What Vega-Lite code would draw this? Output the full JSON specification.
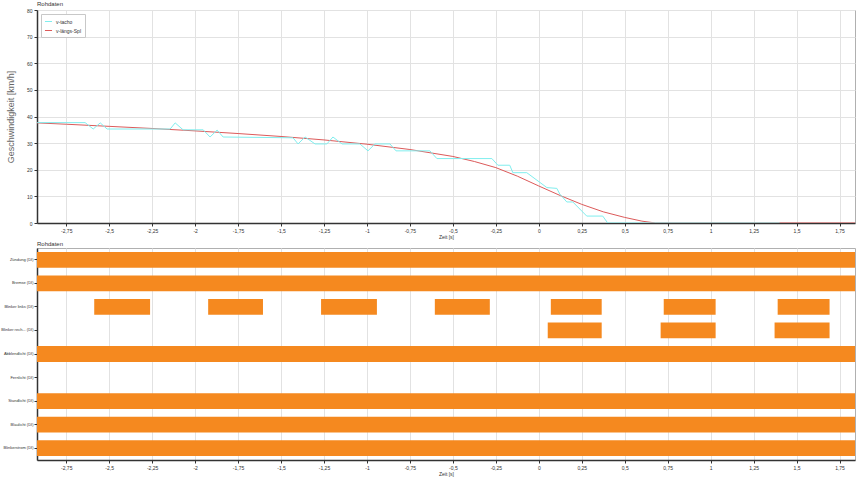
{
  "$schema": "https://vega.github.io/schema/vega-lite/v6.json",
  "padding": {"left": 0, "top": 0, "right": 0, "bottom": 0},
  "spacing": 0,
  "config": {
    "font": "Liberation Sans",
    "view": {"stroke": "#b0b0b0"},
    "axis": {"labelFontSize": 5, "labelColor": "#333", "tickColor": "#333", "domainColor": "#333", "domainWidth": 1.5, "tickSize": 3, "gridColor": "#e2e2e2", "titleFontSize": 5, "titleFontWeight": "normal", "titleColor": "#333", "labelPadding": 2},
    "title": {"fontSize": 6, "fontWeight": "normal", "color": "#333", "anchor": "start", "offset": 1, "frame": "group"}
  },
  "datasets": {
    "speed": [
      {"s": "v-längs-Spl", "t": -2.92, "v": 37.6},
      {"s": "v-längs-Spl", "t": -2.75, "v": 37.1},
      {"s": "v-längs-Spl", "t": -2.5, "v": 36.3},
      {"s": "v-längs-Spl", "t": -2.25, "v": 35.5},
      {"s": "v-längs-Spl", "t": -2.0, "v": 34.6},
      {"s": "v-längs-Spl", "t": -1.75, "v": 33.6},
      {"s": "v-längs-Spl", "t": -1.5, "v": 32.5},
      {"s": "v-längs-Spl", "t": -1.25, "v": 31.2},
      {"s": "v-längs-Spl", "t": -1.0, "v": 29.6},
      {"s": "v-längs-Spl", "t": -0.75, "v": 27.6},
      {"s": "v-längs-Spl", "t": -0.5, "v": 25.0},
      {"s": "v-längs-Spl", "t": -0.375, "v": 23.1},
      {"s": "v-längs-Spl", "t": -0.25, "v": 20.8},
      {"s": "v-längs-Spl", "t": -0.125, "v": 17.6},
      {"s": "v-längs-Spl", "t": 0.0, "v": 13.9},
      {"s": "v-längs-Spl", "t": 0.125, "v": 10.3},
      {"s": "v-längs-Spl", "t": 0.25, "v": 7.0},
      {"s": "v-längs-Spl", "t": 0.375, "v": 4.2},
      {"s": "v-längs-Spl", "t": 0.5, "v": 2.1},
      {"s": "v-längs-Spl", "t": 0.6, "v": 0.7},
      {"s": "v-längs-Spl", "t": 0.68, "v": 0.0},
      {"s": "v-längs-Spl", "t": 1.84, "v": 0.0},
      {"s": "v-tacho", "t": -2.919, "v": 37.7},
      {"s": "v-tacho", "t": -2.64, "v": 37.7},
      {"s": "v-tacho", "t": -2.593, "v": 35.3},
      {"s": "v-tacho", "t": -2.552, "v": 37.6},
      {"s": "v-tacho", "t": -2.512, "v": 35.3},
      {"s": "v-tacho", "t": -2.145, "v": 35.3},
      {"s": "v-tacho", "t": -2.116, "v": 37.6},
      {"s": "v-tacho", "t": -2.07, "v": 35.0},
      {"s": "v-tacho", "t": -1.953, "v": 35.0},
      {"s": "v-tacho", "t": -1.913, "v": 32.3},
      {"s": "v-tacho", "t": -1.872, "v": 34.9},
      {"s": "v-tacho", "t": -1.837, "v": 32.3},
      {"s": "v-tacho", "t": -1.43, "v": 32.0},
      {"s": "v-tacho", "t": -1.401, "v": 29.7},
      {"s": "v-tacho", "t": -1.36, "v": 32.3},
      {"s": "v-tacho", "t": -1.302, "v": 29.7},
      {"s": "v-tacho", "t": -1.233, "v": 29.7},
      {"s": "v-tacho", "t": -1.198, "v": 32.3},
      {"s": "v-tacho", "t": -1.145, "v": 29.7},
      {"s": "v-tacho", "t": -1.041, "v": 29.7},
      {"s": "v-tacho", "t": -0.994, "v": 27.1},
      {"s": "v-tacho", "t": -0.953, "v": 29.7},
      {"s": "v-tacho", "t": -0.866, "v": 29.7},
      {"s": "v-tacho", "t": -0.831, "v": 27.1},
      {"s": "v-tacho", "t": -0.634, "v": 27.1},
      {"s": "v-tacho", "t": -0.593, "v": 24.2},
      {"s": "v-tacho", "t": -0.273, "v": 24.2},
      {"s": "v-tacho", "t": -0.238, "v": 21.7},
      {"s": "v-tacho", "t": -0.169, "v": 21.7},
      {"s": "v-tacho", "t": -0.151, "v": 18.9},
      {"s": "v-tacho", "t": -0.07, "v": 18.9},
      {"s": "v-tacho", "t": 0.047, "v": 13.3},
      {"s": "v-tacho", "t": 0.105, "v": 13.0},
      {"s": "v-tacho", "t": 0.122, "v": 10.9},
      {"s": "v-tacho", "t": 0.163, "v": 7.9},
      {"s": "v-tacho", "t": 0.198, "v": 7.9},
      {"s": "v-tacho", "t": 0.279, "v": 2.6},
      {"s": "v-tacho", "t": 0.372, "v": 2.6},
      {"s": "v-tacho", "t": 0.401, "v": 0.0},
      {"s": "v-tacho", "t": 1.401, "v": 0.0}
    ],
    "bars": [
      {"row": "Zündung (DI)", "start": -2.92, "end": 1.84},
      {"row": "Bremse (DI)", "start": -2.92, "end": 1.84},
      {"row": "Blinker links (DI)", "start": -2.587, "end": -2.262},
      {"row": "Blinker links (DI)", "start": -1.924, "end": -1.605},
      {"row": "Blinker links (DI)", "start": -1.267, "end": -0.942},
      {"row": "Blinker links (DI)", "start": -0.605, "end": -0.285},
      {"row": "Blinker links (DI)", "start": 0.07, "end": 0.366},
      {"row": "Blinker links (DI)", "start": 0.727, "end": 1.029},
      {"row": "Blinker links (DI)", "start": 1.39, "end": 1.692},
      {"row": "Blinker rech... (DI)", "start": 0.052, "end": 0.366},
      {"row": "Blinker rech... (DI)", "start": 0.709, "end": 1.029},
      {"row": "Blinker rech... (DI)", "start": 1.372, "end": 1.692},
      {"row": "Abblendlicht (DI)", "start": -2.92, "end": 1.84},
      {"row": "Standlicht (DI)", "start": -2.92, "end": 1.84},
      {"row": "Blaulicht (DI)", "start": -2.92, "end": 1.84},
      {"row": "Blinkerstrom (DI)", "start": -2.92, "end": 1.84}
    ]
  },
  "vconcat": [
    {
      "title": {"text": "Rohdaten"},
      "width": 818,
      "height": 213,
      "data": {"name": "speed"},
      "mark": {"type": "line", "strokeWidth": 1, "clip": true},
      "encoding": {
        "x": {"field": "t", "type": "quantitative", "scale": {"domain": [-2.92, 1.84], "nice": false, "zero": false},
          "axis": {"title": "Zeit [s]", "values": [-2.75, -2.5, -2.25, -2, -1.75, -1.5, -1.25, -1, -0.75, -0.5, -0.25, 0, 0.25, 0.5, 0.75, 1, 1.25, 1.5, 1.75],
            "labelExpr": "replace(toString(datum.value), '.', ',')", "titlePadding": 1}},
        "y": {"field": "v", "type": "quantitative", "scale": {"domain": [0, 80], "nice": false},
          "axis": {"title": "Geschwindigkeit [km/h]", "values": [0, 10, 20, 30, 40, 50, 60, 70, 80], "titleFontSize": 9, "titleColor": "#666", "titlePadding": 11}},
        "color": {"field": "s", "type": "nominal",
          "scale": {"domain": ["v-tacho", "v-längs-Spl"], "range": ["#80EEEE", "#DC5A5A"]},
          "legend": {"title": null, "orient": "top-left", "offset": 4, "labelFontSize": 5, "labelColor": "#333", "symbolType": "stroke", "symbolSize": 50, "symbolStrokeWidth": 1, "fillColor": "white", "strokeColor": "#c8c8c8", "padding": 3, "rowPadding": 1, "labelOffset": 3}}
      }
    },
    {
      "title": {"text": "Rohdaten"},
      "width": 818,
      "height": 212,
      "data": {"name": "bars"},
      "mark": {"type": "bar", "color": "#F5891F", "clip": true},
      "encoding": {
        "x": {"field": "start", "type": "quantitative", "scale": {"domain": [-2.92, 1.84], "nice": false, "zero": false},
          "axis": {"title": "Zeit [s]", "values": [-2.75, -2.5, -2.25, -2, -1.75, -1.5, -1.25, -1, -0.75, -0.5, -0.25, 0, 0.25, 0.5, 0.75, 1, 1.25, 1.5, 1.75],
            "labelExpr": "replace(toString(datum.value), '.', ',')", "titlePadding": 1}},
        "x2": {"field": "end"},
        "y": {"field": "row", "type": "nominal",
          "sort": ["Zündung (DI)", "Bremse (DI)", "Blinker links (DI)", "Blinker rech... (DI)", "Abblendlicht (DI)", "Fernlicht (DI)", "Standlicht (DI)", "Blaulicht (DI)", "Blinkerstrom (DI)"],
          "scale": {"domain": ["Zündung (DI)", "Bremse (DI)", "Blinker links (DI)", "Blinker rech... (DI)", "Abblendlicht (DI)", "Fernlicht (DI)", "Standlicht (DI)", "Blaulicht (DI)", "Blinkerstrom (DI)"], "paddingInner": 0.33, "paddingOuter": 0.165},
          "axis": {"title": null, "grid": false, "labelFontSize": 4, "labelPadding": 1}}
      }
    }
  ]
}
